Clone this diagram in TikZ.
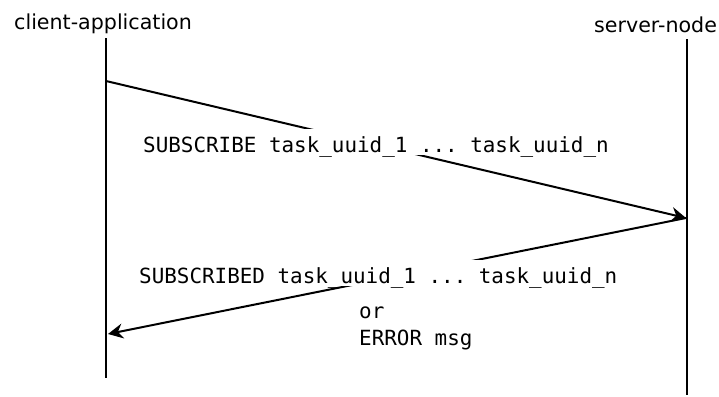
\documentclass[tikz,border=0pt]{standalone}
\usepackage{fontspec}
\setmainfont{DejaVu Sans}
\setmonofont{DejaVu Sans Mono}
\usetikzlibrary{arrows.meta}
\begin{document}
\begin{tikzpicture}[x=1bp,y=1bp,
  lifeline/.style={line width=2bp, black},
  message/.style={line width=2bp, black, -{Stealth[length=15bp,width=15bp,inset=5bp]}},
  actor/.style={font=\fontsize{20.6bp}{24bp}\selectfont, inner sep=0pt, anchor=base west},
  msgtext/.style={font=\fontsize{20.9bp}{24bp}\ttfamily, fill=white, inner xsep=2bp, inner ysep=0pt,
                  text height=23bp, text depth=3bp, anchor=base west},
  note/.style={font=\fontsize{20.9bp}{24bp}\ttfamily, inner sep=0pt, anchor=base west}]
\useasboundingbox (0,0) rectangle (719,396);

% participant headers
\node[actor] (client) at (14,367) {client-application};
\node[actor] (server) at (594,364) {server-node};

% lifelines
\coordinate (ctop) at (106,358);
\coordinate (cbot) at (106,18);
\coordinate (stop) at (687,357);
\coordinate (sbot) at (687,1);
\draw[lifeline] (ctop) -- (cbot);
\draw[lifeline] (stop) -- (sbot);

% message end points
\coordinate (req0) at (106,315);
\coordinate (req1) at (686,178);
\coordinate (rep1) at (108,62);

\draw[message] (req0) -- (req1);
\draw[message] (req1) -- (rep1);

% message labels (white boxes mask the arrows)
\node[msgtext] (reqlabel) at (141,244) {SUBSCRIBE task\_uuid\_1 ... task\_uuid\_n};
\node[msgtext] (replabel) at (137,113) {SUBSCRIBED task\_uuid\_1 ... task\_uuid\_n};
\node[note] (orlabel) at (359,78) {or};
\node[note] (errlabel) at (359,51) {ERROR msg};
\end{tikzpicture}
\end{document}
